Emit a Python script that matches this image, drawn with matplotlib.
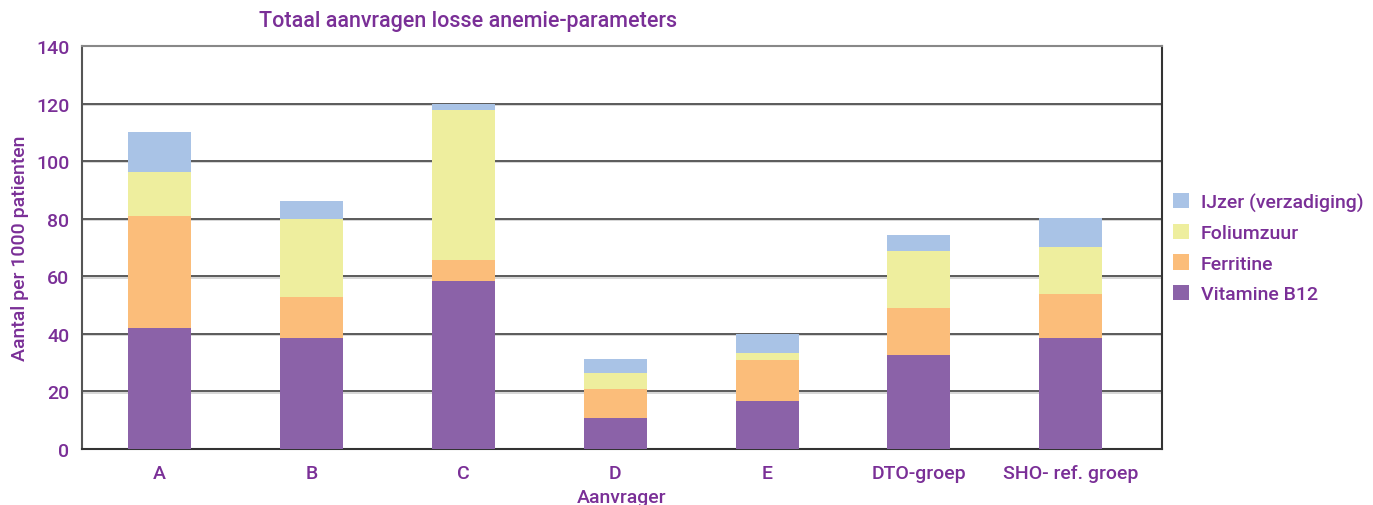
import numpy as np
import matplotlib
matplotlib.use("Agg")
import matplotlib.pyplot as plt

# data
groups = ['A', 'B', 'C', 'D', 'E', 'DTO-groep', 'SHO- ref. groep']
b12 = [42.1, 38.6, 58.4, 10.8, 16.7, 32.7, 38.6]
ferritine = [38.9, 14.3, 7.3, 10.1, 14.3, 16.3, 15.3]
folium = [15.3, 27.1, 52.2, 5.5, 2.4, 19.9, 16.4]
ijzer = [13.7, 6.3, 1.9, 4.9, 6.4, 5.5, 9.9]

series = [('Vitamine B12', b12, '#8b62a8'),
          ('Ferritine', ferritine, '#fbbd7a'),
          ('Foliumzuur', folium, '#eeee9e'),
          ('IJzer (verzadiging)', ijzer, '#a9c3e6')]

txt = '#7a2f97'
plt.rcParams['font.family'] = ['Roboto', 'DejaVu Sans']
plt.rcParams['font.weight'] = 'medium'
fs = 14

fig = plt.figure(figsize=(13.73, 5.06), dpi=100)
ax = fig.add_axes([0.0597, 0.1107, 0.7866, 0.7964])

x = np.arange(len(groups))
bottom = np.zeros(len(groups))
handles = []
for name, vals, col in series:
    h = ax.bar(x, vals, 0.415, bottom=bottom, color=col, label=name, zorder=3)
    handles.append(h)
    bottom += np.array(vals)

# gridlines: dark line with light shadow underneath
for v in range(20, 140, 20):
    ax.axhline(v, color='#5a5a5a', lw=1.4, zorder=1)
    ax.axhline(v - 0.45, color='#cfcfcf', lw=1.2, zorder=0)

ax.set_xlim(-0.51, 6.6)
ax.set_ylim(0, 140)
ax.set_yticks(range(0, 141, 20))
ax.set_xticks(x)
ax.set_xticklabels(groups)
ax.tick_params(axis='both', length=0, labelsize=fs, labelcolor=txt)
ax.tick_params(axis='y', pad=9)
ax.tick_params(axis='x', pad=11)

ax.spines['left'].set_color('#555555')
ax.spines['left'].set_linewidth(1.5)
ax.spines['right'].set_color('#333333')
ax.spines['right'].set_linewidth(1.5)
ax.spines['top'].set_color('#888888')
ax.spines['top'].set_linewidth(1.5)
ax.spines['bottom'].set_color('#333333')
ax.spines['bottom'].set_linewidth(1.5)

ax.set_xlabel('Aanvrager', fontsize=fs, color=txt, fontweight='medium', labelpad=4)
ax.set_ylabel('Aantal per 1000 patienten', fontsize=14, color=txt,
              fontweight='medium', labelpad=5)
fig.text(468 / 1373, 1 - 22 / 506, 'Totaal aanvragen losse anemie-parameters',
         ha='center', va='center', fontsize=15.5, color=txt, fontweight='medium')

leg = fig.legend(handles[::-1], [s[0] for s in series][::-1],
                 loc='upper left', bbox_to_anchor=(1155 / 1373, 1 - 176 / 506),
                 frameon=False, fontsize=fs, handlelength=0.85, handleheight=0.85,
                 labelspacing=0.62, handletextpad=0.6)
for t in leg.get_texts():
    t.set_color(txt)

fig.savefig('out.png', dpi=100)
